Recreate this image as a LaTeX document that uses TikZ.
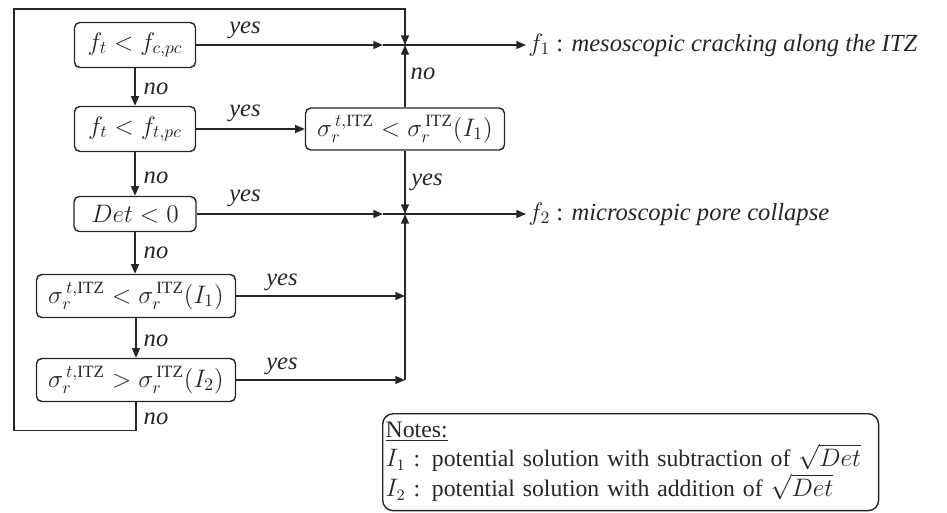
\documentclass[tikz,border=0pt]{standalone}
\usepackage{fontspec}
\setmainfont{Liberation Serif}
\usetikzlibrary{arrows.meta}

\tikzset{
  test/.style={draw, rounded corners=3pt, inner sep=2pt},
  arr/.style={-{Triangle[length=5.5pt,width=4.5pt]}},
  lab/.style={font=\fontsize{14}{16}\selectfont\itshape, inner sep=1pt},
  result/.style={anchor=west, inner sep=1pt},
}

\newcommand{\sig}[1]{\sigma_r^{\,#1}}

\begin{document}
\begin{tikzpicture}[x=0.02cm,y=-0.02cm,line width=0.8pt,color=black!85,
  font=\fontsize{14}{16}\selectfont]
\useasboundingbox (0,0) rectangle (947,512);

% decision column
\node[test,minimum width=2.42cm,minimum height=0.9cm] (fc) at (135,45) {$f_t < f_{c,pc}$};
\node[test,minimum width=2.42cm,minimum height=0.9cm] (ft) at (135,129) {$f_t < f_{t,pc}$};
\node[test,minimum width=2.44cm,minimum height=0.7cm] (det) at (135,214) {$Det < 0$};
\node[test,minimum width=3.98cm,minimum height=0.86cm] (sa) at (136,296) {$\sig{t,\mathrm{ITZ}} < \sig{\mathrm{ITZ}}(I_1)$};
\node[test,minimum width=3.98cm,minimum height=0.86cm] (sb) at (136,380) {$\sig{t,\mathrm{ITZ}} > \sig{\mathrm{ITZ}}(I_2)$};
\node[test,minimum width=3.98cm,minimum height=0.84cm] (sm) at (405,129) {$\sig{t,\mathrm{ITZ}} < \sig{\mathrm{ITZ}}(I_1)$};

% junctions and helper points
\coordinate (j1) at (405,45);
\coordinate (j2) at (405,214);
\coordinate (h1) at (383,45);
\coordinate (h2) at (383,214);
\coordinate (k) at (405,380);
\coordinate (back) at (14,9);

% results
\node[result] (f1) at (526,45) {$f_1$ : \textit{mesoscopic cracking along the ITZ}};
\node[result] (f2) at (526,214) {$f_2$ : \textit{microscopic pore collapse}};

% no branches
\draw[arr] (fc) -- (ft);
\draw[arr] (ft) -- (det);
\draw[arr] (det) -- (det |- sa.north);
\draw[arr] (sa) -- (sb);
\draw[arr] (sb.south) -- ++(0,28) -| (back) -| (j1);
\draw[arr] (sm) -- (j1);

% yes branches
\draw[arr] (fc) -- (h1);
\draw (h1) -- (j1);
\draw[arr] (ft) -- (sm);
\draw[arr] (det) -- (h2);
\draw (h2) -- (j2);
\draw[arr] (sm) -- (j2);
\draw[arr] (sa) -- (sa -| k);
\draw[arr] (sb) -- (k);
\draw[arr] (k) -- (j2);

\draw[arr] (j1) -- (f1);
\draw[arr] (j2) -- (f2);

% labels
\node[lab] (y1) at (245,30) {yes};
\node[lab] (y2) at (245,113) {yes};
\node[lab] (y3) at (245,198) {yes};
\node[lab] (y4) at (282,282) {yes};
\node[lab] (y5) at (282,366) {yes};
\node[lab] (y6) at (427,182) {yes};
\node[lab] (n1) at (156,89) {no};
\node[lab] (n2) at (156,178) {no};
\node[lab] (n3) at (156,253) {no};
\node[lab] (n4) at (156,341) {no};
\node[lab] (n5) at (156,419) {no};
\node[lab] (n6) at (423,74) {no};

% notes
\node[draw,rounded corners=6pt,anchor=north west,minimum width=9.92cm,minimum height=1.94cm,
  text width=9.8cm,align=left,inner sep=1.5pt,font=\fontsize{13.5}{14.4}\selectfont] (notes) at (382,413)
  {\underline{Notes:}\\
   $I_1$ : potential solution with subtraction of $\sqrt{Det}$\\
   $I_2$ : potential solution with addition of $\sqrt{Det}$};
\end{tikzpicture}
\end{document}
